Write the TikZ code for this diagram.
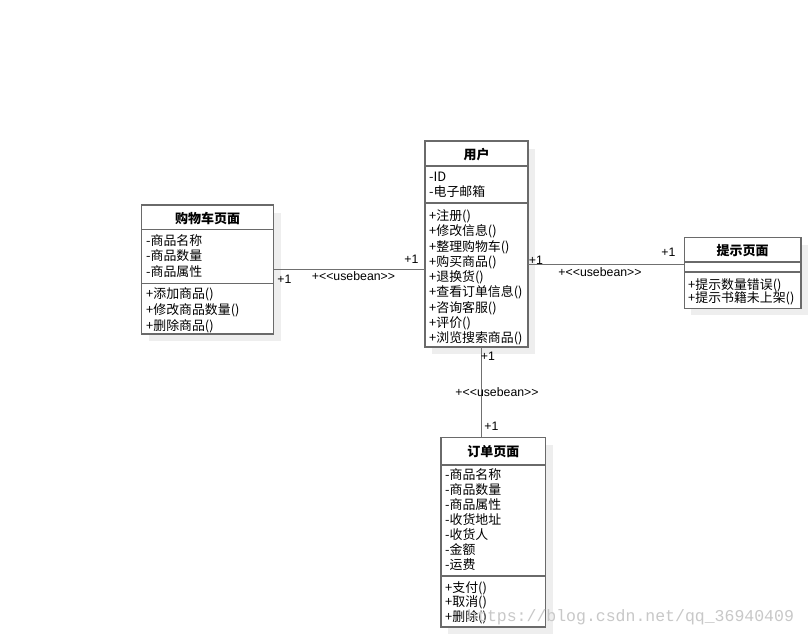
\documentclass[tikz,border=0pt]{standalone}
\usepackage{fontspec}
\setmainfont{Noto Sans CJK SC}
\newfontfamily\latinf{Liberation Sans}
\newfontfamily\wmfont{Liberation Mono}
\pgfdeclarelayer{bgl}
\pgfdeclarelayer{shl}
\pgfsetlayers{bgl,shl,main}
\definecolor{boxline}{HTML}{6A6A6A}
\definecolor{connline}{HTML}{707070}
\definecolor{shadowc}{HTML}{EEEEEE}
\definecolor{wmc}{HTML}{C8C8C8}
\begin{document}
\begin{tikzpicture}[x=1pt,y=-1pt,
  classbox/.style={draw=boxline, line width=1.6pt, fill=white, inner sep=0pt, outer sep=0pt},
  sepline/.style={draw=boxline, line width=1.5pt},
  conn/.style={draw=connline, line width=1.5pt},
  item/.style={anchor=base west, inner sep=0pt, font=\fontsize{12.9}{14}\selectfont},
  ttl/.style={anchor=center, inner sep=0pt, font=\bfseries\fontsize{13}{14}\selectfont},
  lbl/.style={anchor=center, inner sep=0pt, font=\latinf\fontsize{12.3}{14}\selectfont},
  shadowbox/.style={fill=shadowc}]
\begin{pgfonlayer}{bgl}
\fill[white] (0,0) rectangle (811,637);
\end{pgfonlayer}
\useasboundingbox (0,0) rectangle (811,637);

% ---------- 用户 ----------
\node[classbox, minimum width=103pt, minimum height=206pt] (user) at (476.5,244) {};
\draw[sepline] (user.west |- 0,166) -- (user.east |- 0,166);
\draw[sepline] (user.west |- 0,203) -- (user.east |- 0,203);
\node[ttl] (userT) at (476.5,154.5) {用户};
\node[item] (u1) at (429,181.5) {-ID};
\node[item] (u2) at (429,196.5) {-电子邮箱};
\node[item] (u3) at (429,220.5) {+注册()};
\node[item] (u4) at (429,235.8) {+修改信息()};
\node[item] (u5) at (429,251) {+整理购物车()};
\node[item] (u6) at (429,266.3) {+购买商品()};
\node[item] (u7) at (429,281.5) {+退换货()};
\node[item] (u8) at (429,296.8) {+查看订单信息()};
\node[item] (u9) at (429,312) {+咨询客服()};
\node[item] (u10) at (429,327.3) {+评价()};
\node[item] (u11) at (429,342.5) {+浏览搜索商品()};

% ---------- 购物车页面 ----------
\node[classbox, minimum width=132pt, minimum height=129pt] (cart) at (207.5,269.5) {};
\draw[sepline] (cart.west |- 0,229.5) -- (cart.east |- 0,229.5);
\draw[sepline] (cart.west |- 0,283.5) -- (cart.east |- 0,283.5);
\node[ttl] (cartT) at (207.5,218) {购物车页面};
\node[item] (c1) at (146,245) {-商品名称};
\node[item] (c2) at (146,260.7) {-商品数量};
\node[item] (c3) at (146,276.5) {-商品属性};
\node[item] (c4) at (146,298.5) {+添加商品()};
\node[item] (c5) at (146,314.8) {+修改商品数量()};
\node[item] (c6) at (146,330.8) {+删除商品()};

% ---------- 提示页面 ----------
\node[classbox, minimum width=116.5pt, minimum height=71pt] (prompt) at (742.7,272.8) {};
\draw[sepline] (prompt.west |- 0,262) -- (prompt.east |- 0,262);
\draw[sepline] (prompt.west |- 0,272) -- (prompt.east |- 0,272);
\node[ttl] (promptT) at (742.7,251) {提示页面};
\node[item] (p1) at (688,289) {+提示数量错误()};
\node[item] (p2) at (688,302.5) {+提示书籍未上架()};

% ---------- 订单页面 ----------
\node[classbox, minimum width=104.5pt, minimum height=189.5pt] (order) at (493.4,532.1) {};
\draw[sepline] (order.west |- 0,465) -- (order.east |- 0,465);
\draw[sepline] (order.west |- 0,576) -- (order.east |- 0,576);
\node[ttl] (orderT) at (493.4,451.5) {订单页面};
\node[item] (o1) at (445,479) {-商品名称};
\node[item] (o2) at (445,494) {-商品数量};
\node[item] (o3) at (445,509) {-商品属性};
\node[item] (o4) at (445,524) {-收货地址};
\node[item] (o5) at (445,539) {-收货人};
\node[item] (o6) at (445,554) {-金额};
\node[item] (o7) at (445,569) {-运费};
\node[item] (o8) at (445,592) {+支付()};
\node[item] (o9) at (445,606.5) {+取消()};
\node[item] (o10) at (445,621) {+删除()};

% ---------- shadows ----------
\begin{pgfonlayer}{shl}
\foreach \n in {user,cart,prompt,order}{
  \fill[shadowc] ([xshift=7pt,yshift=-8pt]\n.north west) rectangle ([xshift=7pt,yshift=-7pt]\n.south east);
}
\end{pgfonlayer}

% ---------- connectors ----------
\draw[conn] (cart.east) -- (cart.east -| user.west);
\coordinate (prl) at (prompt.west |- 0,264.5);
\draw[conn] (prl -| user.east) -- (prl);
\coordinate (ordx) at (481.7,400);
\draw[conn] (user.south -| ordx) -- (order.north -| ordx);

% ---------- labels ----------
\node[lbl] (l1) at (284.5,279.5) {+1};
\node[lbl] (l2) at (353.5,276) {+<<usebean>>};
\node[lbl] (l3) at (411.5,259.5) {+1};
\node[lbl] (l4) at (536,260) {+1};
\node[lbl] (l5) at (600,272.5) {+<<usebean>>};
\node[lbl] (l6) at (668.5,252.5) {+1};
\node[lbl] (l7) at (488,356) {+1};
\node[lbl] (l8) at (497,392.5) {+<<usebean>>};
\node[lbl] (l9) at (491.5,426) {+1};

% ---------- watermark ----------
\node[anchor=base west, inner sep=0pt, text=wmc, font=\wmfont\fontsize{16.5}{18}\selectfont] (wm) at (467,621.5) {https://blog.csdn.net/qq\_36940409};
\end{tikzpicture}
\end{document}
